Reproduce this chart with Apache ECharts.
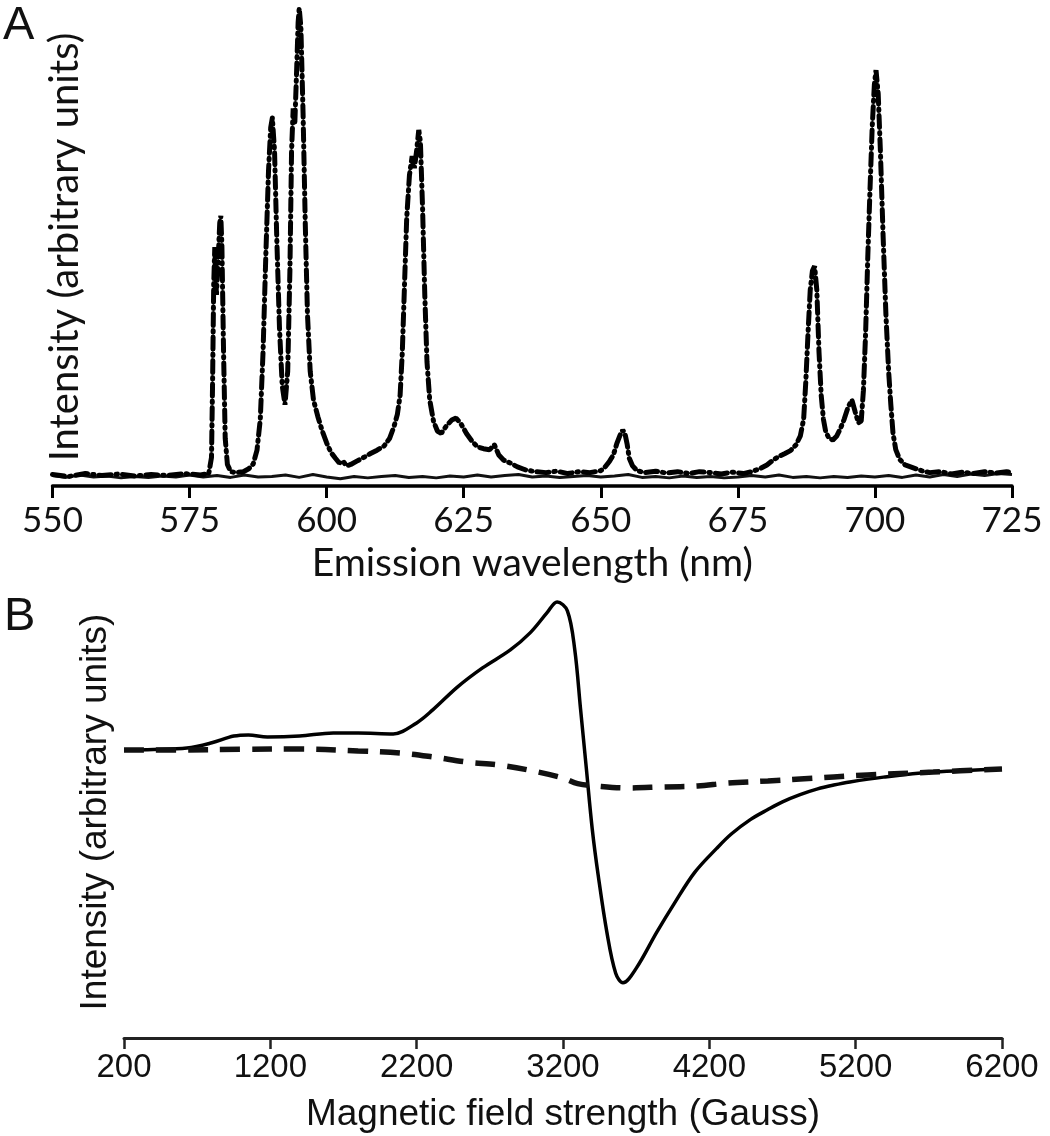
<!DOCTYPE html>
<html>
<head>
    <meta charset="utf-8">
    <script src="https://cdn.jsdelivr.net/npm/echarts@6/dist/echarts.min.js"></script>
    <style>
        body { margin: 0; background: #fff; }
    </style>
</head>
<body>
<div id="main" style="width: 1050px;height:1136px;"></div>

<script type="text/javascript">
    // panel A: emission spectra
    var wlTicks = [550, 575, 600, 625, 650, 675, 700, 725];

    // solid trace (flat baseline)
    var baseWave = [550, 552.5, 555, 557.5, 560, 562.5, 565, 567.5, 570, 572.5, 575, 577.5, 580, 582.5, 585, 587.5,
        590, 592.5, 595, 597.5, 600, 602.5, 605, 607.5, 610, 612.5, 615, 617.5, 620, 622.5, 625, 627.5, 630, 632.5,
        635, 637.5, 640, 642.5, 645, 647.5, 650, 652.5, 655, 657.5, 660, 662.5, 665, 667.5, 670, 672.5, 675, 677.5,
        680, 682.5, 685, 687.5, 690, 692.5, 695, 697.5, 700, 702.5, 705, 707.5, 710, 712.5, 715, 717.5, 720, 722.5, 725];
    var baseInt = [2.2, 1.8, 2.3, 1.9, 2.1, 1.7, 2.0, 1.8, 2.1, 1.9, 2.3, 1.9, 2.2, 1.8, 2.3, 1.9,
        2.0, 2.3, 1.8, 2.4, 1.9, 1.5, 2.0, 1.7, 2.0, 2.2, 1.8, 2.0, 1.7, 2.1, 1.9, 2.3, 1.9, 2.2,
        2.4, 1.9, 2.1, 1.8, 2.0, 2.2, 1.9, 2.1, 2.4, 1.8, 2.0, 1.7, 2.1, 1.8, 2.0, 1.7, 1.9, 2.2,
        1.9, 2.3, 1.8, 2.0, 1.7, 2.0, 1.8, 2.1, 1.9, 2.2, 1.8, 2.3, 1.9, 2.4, 2.0, 2.5, 2.2, 2.6, 2.4];

    // dotted trace (emission peaks)
    var emWave = [550, 553, 556, 559, 562, 565, 568, 571, 574, 577, 578.5,
        579.0, 579.2, 579.4, 579.6, 579.9, 580.2, 580.5, 580.7, 580.9, 581.2, 581.5, 581.9, 582.5, 583.5,
        584.8, 585.8, 586.6, 587.3, 587.9, 588.4, 588.9, 589.4, 589.8, 590.1, 590.5, 590.9, 591.4, 591.9,
        592.4, 592.9, 593.3, 593.6, 593.9, 594.2, 594.5, 594.8, 595.0, 595.3, 595.7, 596.1, 596.5, 597.0,
        597.6, 598.4, 599.2, 600.0, 600.8, 601.6, 602.3, 603.0, 603.6, 604.4, 605.5, 606.8, 608.0, 609.2,
        610.5, 611.5, 612.3, 612.9, 613.4, 613.8, 614.2, 614.6, 615.1, 615.6, 616.0, 616.4, 616.8, 617.1,
        617.5, 617.9, 618.3, 618.8, 619.5, 620.2, 620.9, 621.8, 622.8, 623.6, 624.5, 625.5, 626.5, 627.5,
        628.6, 629.7, 630.6, 631.4, 632.3, 633.5, 634.8, 636.2, 638, 640, 642, 644, 646, 648,
        650.0, 650.8, 651.6, 652.3, 652.9, 653.5, 654.0, 654.4, 654.8, 655.2, 655.8, 656.6, 658, 660,
        662, 664, 666, 668, 670, 672, 674, 676, 677.5, 679, 680.3, 681.4, 682.5, 683.6, 684.6, 685.6,
        686.4, 687.0, 687.4, 687.8, 688.2, 688.6, 689.0, 689.4, 689.8, 690.2, 690.6, 691.0, 691.6, 692.3,
        693.0, 693.7, 694.4, 695.1, 695.8, 696.4, 697.0, 697.5, 697.9, 698.3, 698.7, 699.1, 699.5, 699.9,
        700.2, 700.6, 701.0, 701.5, 702.0, 702.5, 702.9, 703.3, 703.8, 704.5, 705.5, 707.0, 708.5, 710,
        712, 714, 716, 718, 720, 722, 724, 725];
    var emInt = [2.4, 2.0, 2.6, 2.2, 2.5, 2.1, 2.4, 2.2, 2.6, 2.3, 2.6,
        6, 22, 42, 50, 40, 47, 55, 56.5, 50, 28, 10, 4.5, 3, 2.8,
        3, 3.6, 4.6, 7.5, 14, 28, 48, 66, 75, 77, 70, 52, 33, 21,
        17, 24, 45, 70, 79, 76, 86, 97, 100, 96, 78, 55, 36, 24,
        18, 14.5, 11.5, 9, 7, 5.8, 4.8, 5.2, 4.2, 4.5, 5.2, 6, 6.8, 7.5,
        8.4, 10, 12.5, 15, 19, 28, 42, 56, 65, 69, 66.5, 70, 74.5, 72,
        58, 40, 26, 18, 13.5, 11.5, 11, 12.5, 13.8, 14.2, 13, 11, 9.4, 8.2,
        7.8, 7.6, 8.6, 6.5, 5.4, 4.8, 4, 3.4, 3, 2.8, 3.1, 2.6, 3, 2.8,
        3.2, 4, 5.2, 6.5, 8.8, 10.6, 11.7, 11, 8.8, 5.8, 4.2, 3.2, 2.8, 3.1,
        2.7, 3, 2.6, 3, 2.8, 2.5, 2.9, 2.6, 3, 3.6, 4.4, 5.4, 6.2, 6.8, 7.4, 8.6,
        10.5, 14, 22, 32, 41, 45, 46, 41, 28, 19, 14, 11.5, 10, 9.6,
        10.4, 12, 14, 16.5, 18, 15.5, 13.2, 13.6, 20, 32, 48, 62, 75, 84,
        87, 82, 70, 52, 36, 24, 17, 11, 7.6, 5.6, 4.4, 3.8, 3.2, 2.8,
        3, 2.5, 2.9, 2.6, 3, 2.7, 3.0, 2.8];

    // panel B: field sweep
    var gaussTicks = [200, 1200, 2200, 3200, 4200, 5200, 6200];

    var solidField = [200, 400, 630, 800, 950, 1050, 1180, 1400, 1630, 1800, 2040, 2200, 2310, 2480, 2650,
        2840, 2975, 3090, 3160, 3230, 3280, 3320, 3360, 3400, 3440, 3500, 3560, 3610, 3700, 3840,
        3960, 4100, 4250, 4350, 4480, 4600, 4700, 4820, 4940, 5050, 5160, 5390, 5730, 6200];
    var solidInt = [0, 0.2, 0.8, 3.0, 5.8, 6.3, 5.4, 5.8, 7.1, 7.1, 6.7, 11.3, 16.7, 26.3, 34.2,
        41.7, 48.8, 57.1, 61.7, 58, 42, 17, -8, -33, -52, -76, -93, -97, -91, -76,
        -64, -51, -41, -35, -29, -24.8, -21.6, -18.6, -16.2, -14.6, -13.3, -11.3, -9.2, -7.9];

    var dashField = [200, 600, 1000, 1400, 1800, 2090, 2310, 2540, 2770, 3000, 3200, 3300, 3430, 3640,
        3880, 4120, 4320, 4600, 4820, 5280, 5730, 6200];
    var dashInt = [0, 0, 0.3, 0.4, -0.4, -1.3, -2.9, -5, -6.3, -8.8, -11.7, -14, -15, -15.8,
        -15.4, -15, -13.8, -12.9, -12.1, -10.4, -9.2, -7.9];

    function pairs(xs, ys) {
        var out = [];
        for (var i = 0; i < xs.length; i++) {
            out.push([xs[i], ys[i]]);
        }
        return out;
    }

    var myChart = echarts.init(document.getElementById('main'));

    var fontA = 'Lato, "Open Sans", sans-serif';
    var fontB = '"Liberation Sans", Arial, sans-serif';

    var option = {
        animation: false,
        backgroundColor: '#fff',
        title: [
            {text: 'A', left: 3, top: 3, padding: 0,
                textStyle: {fontFamily: fontB, fontSize: 47, fontWeight: 'normal', color: '#111'}},
            {text: 'B', left: 4, top: 594, padding: 0,
                textStyle: {fontFamily: fontB, fontSize: 47, fontWeight: 'normal', color: '#111'}}
        ],
        grid: [
            {left: 52.5, right: 38, top: 8, height: 478},
            {left: 124, right: 48, top: 558, height: 480}
        ],
        xAxis: [
            {
                type: 'value', gridIndex: 0, min: 550, max: 725, interval: 25,
                axisLine: {onZero: false, lineStyle: {color: '#000', width: 3.5}},
                axisTick: {length: 12, customValues: wlTicks, lineStyle: {color: '#000', width: 3}},
                axisLabel: {fontFamily: fontA, fontSize: 35, color: '#111', margin: 17,
                    customValues: wlTicks, formatter: function (v) { return String(v); }},
                splitLine: {show: false},
                name: 'Emission wavelength (nm)', nameLocation: 'middle', nameGap: 58,
                nameTextStyle: {fontFamily: fontA, fontSize: 39, color: '#111'}
            },
            {
                type: 'value', gridIndex: 1, min: 200, max: 6200,
                axisLine: {onZero: false, lineStyle: {color: '#222', width: 3}},
                axisTick: {length: 11, customValues: gaussTicks, lineStyle: {color: '#222', width: 2.5}},
                axisLabel: {fontFamily: fontB, fontSize: 33, color: '#111', margin: 13,
                    customValues: gaussTicks, formatter: function (v) { return String(v); }},
                splitLine: {show: false},
                name: 'Magnetic field strength (Gauss)', nameLocation: 'middle', nameGap: 58,
                nameTextStyle: {fontFamily: fontB, fontSize: 37, color: '#111'}
            }
        ],
        yAxis: [
            {
                type: 'value', gridIndex: 0, min: 0, max: 100,
                axisLine: {show: false}, axisTick: {show: false}, axisLabel: {show: false},
                splitLine: {show: false},
                name: 'Intensity (arbitrary units)', nameLocation: 'middle', nameGap: -33,
                nameTextStyle: {fontFamily: fontA, fontSize: 40, color: '#111'}
            },
            {
                type: 'value', gridIndex: 1, min: -120, max: 80,
                axisLine: {show: false}, axisTick: {show: false}, axisLabel: {show: false},
                splitLine: {show: false},
                name: 'Intensity (arbitrary units)', nameLocation: 'middle', nameGap: 10,
                nameTextStyle: {fontFamily: fontB, fontSize: 37, color: '#111', padding: [0, 28, 0, 0]}
            }
        ],
        series: [
            {
                name: 'baseline', type: 'line', xAxisIndex: 0, yAxisIndex: 0,
                data: pairs(baseWave, baseInt), showSymbol: false,
                lineStyle: {color: '#111', width: 3}
            },
            {
                name: 'emission', type: 'line', xAxisIndex: 0, yAxisIndex: 0,
                data: pairs(emWave, emInt), showSymbol: false,
                lineStyle: {color: '#000', width: 5, type: [12, 5, 1.5, 5], cap: 'round'}
            },
            {
                name: 'solid', type: 'line', xAxisIndex: 1, yAxisIndex: 1,
                data: pairs(solidField, solidInt), showSymbol: false, smooth: 0.35,
                lineStyle: {color: '#000', width: 3.5}
            },
            {
                name: 'dashed', type: 'line', xAxisIndex: 1, yAxisIndex: 1,
                data: pairs(dashField, dashInt), showSymbol: false, smooth: 0.35,
                lineStyle: {color: '#111', width: 5.5, type: [20, 12]}
            }
        ]
    };

    myChart.setOption(option);
</script>

</body>
</html>
